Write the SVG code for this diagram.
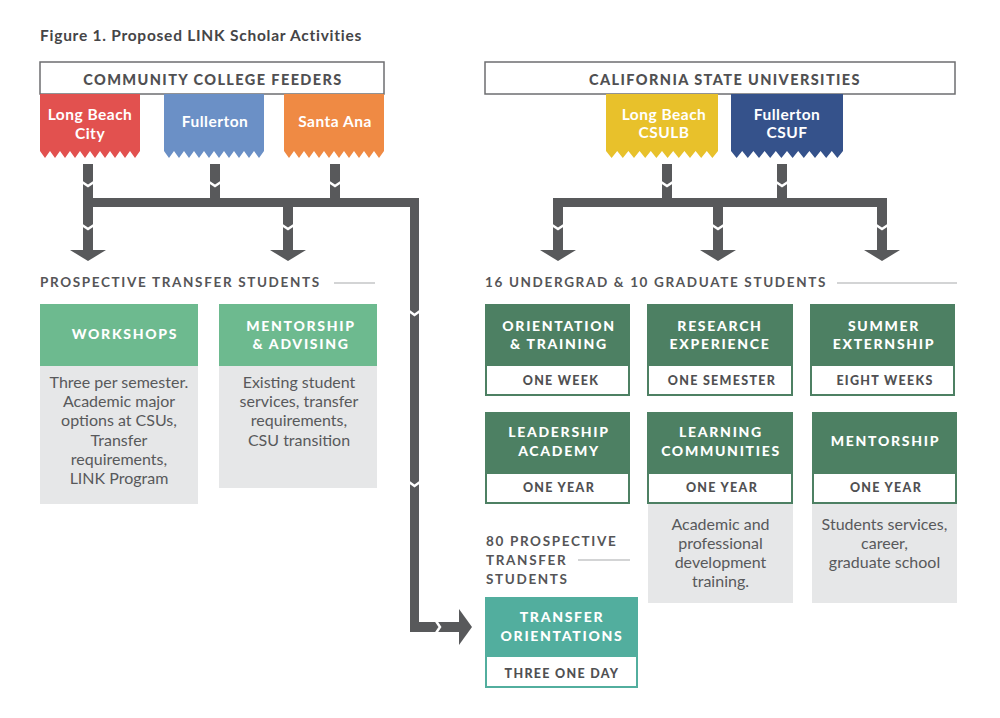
<svg xmlns="http://www.w3.org/2000/svg" width="1000" height="718" viewBox="0 0 1000 718">
<style>
text{font-family:Lato,"Open Sans","Liberation Sans",sans-serif}
.title{font-weight:bold;font-size:15.5px;fill:#454547;letter-spacing:0.75px}
.hdr{font-weight:900;font-size:14.5px;fill:#505052;letter-spacing:1.4px;text-anchor:middle}
.ban{font-weight:bold;font-size:15.5px;fill:#fff;letter-spacing:0.5px;text-anchor:middle}
.sec{font-weight:bold;font-size:13.5px;fill:#555557;letter-spacing:1.65px}
.bx{font-weight:900;font-size:14px;fill:#fff;letter-spacing:1.7px;text-anchor:middle}
.sub{font-weight:900;font-size:12.5px;fill:#505052;letter-spacing:1.3px;text-anchor:middle}
.body{font-size:16px;fill:#58595b;text-anchor:middle}
.hbox{fill:#fff;stroke:#6d6e70;stroke-width:1.5}
.con{fill:#58595b}
.gap{fill:none;stroke:#fff;stroke-width:2.5}
.rule{stroke:#a7a9ac;stroke-width:1.2}
.lg{fill:#6dba8f}
.dg{fill:#4d8063}
.tl{fill:#52ae9e}
.gray{fill:#e6e7e8}
.wb{fill:#fff;stroke:#4d8063;stroke-width:2}
.wbt{fill:#fff;stroke:#52ae9e;stroke-width:2}
</style>

<text class="title" x="40" y="41">Figure 1. Proposed LINK Scholar Activities</text>

<g id="cc-header">
<rect class="hbox" x="40" y="62" width="344" height="32"/>
<text class="hdr" x="213" y="85">COMMUNITY COLLEGE FEEDERS</text>
</g>
<g id="csu-header">
<rect class="hbox" x="485" y="62" width="470" height="32"/>
<text class="hdr" x="725" y="85">CALIFORNIA STATE UNIVERSITIES</text>
</g>

<g id="lbcc">
<path fill="#e2514f" d="M40,94H140V151L135,158L130,151L125,158L120,151L115,158L110,151L105,158L100,151L95,158L90,151L85,158L80,151L75,158L70,151L65,158L60,151L55,158L50,151L45,158L40,151Z"/>
<text class="ban" x="90" y="120">Long Beach</text>
<text class="ban" x="90" y="139">City</text>
</g>
<g id="fullerton-cc">
<path fill="#6b90c6" d="M164,94H264V151L259,158L254,151L249,158L244,151L239,158L234,151L229,158L224,151L219,158L214,151L209,158L204,151L199,158L194,151L189,158L184,151L179,158L174,151L169,158L164,151Z"/>
<text class="ban" x="215" y="127">Fullerton</text>
</g>
<g id="santa-ana">
<path fill="#ef8a44" d="M284,94H384V151L379,158L374,151L369,158L364,151L359,158L354,151L349,158L344,151L339,158L334,151L329,158L324,151L319,158L314,151L309,158L304,151L299,158L294,151L289,158L284,151Z"/>
<text class="ban" x="335" y="127">Santa Ana</text>
</g>
<g id="csulb">
<path fill="#e8c12b" d="M606,94H718V151L712.4,158L706.8,151L701.2,158L695.6,151L690,158L684.4,151L678.8,158L673.2,151L667.6,158L662,151L656.4,158L650.8,151L645.2,158L639.6,151L634,158L628.4,151L622.8,158L617.2,151L611.6,158L606,151Z"/>
<text class="ban" x="664" y="120">Long Beach</text>
<text class="ban" x="664" y="138">CSULB</text>
</g>
<g id="csuf">
<path fill="#35528b" d="M731,94H843V151L837.4,158L831.8,151L826.2,158L820.6,151L815,158L809.4,151L803.8,158L798.2,151L792.6,158L787,151L781.4,158L775.8,151L770.2,158L764.6,151L759,158L753.4,151L747.8,158L742.2,151L736.6,158L731,151Z"/>
<text class="ban" x="787" y="120">Fullerton</text>
<text class="ban" x="787" y="138">CSUF</text>
</g>

<g id="connectors">
<rect class="con" x="83" y="164" width="10" height="34"/>
<rect class="con" x="210" y="164" width="10" height="34"/>
<rect class="con" x="330" y="164" width="10" height="34"/>
<rect class="con" x="83" y="198" width="336" height="9"/>
<rect class="con" x="83" y="207" width="10" height="44"/>
<rect class="con" x="283" y="207" width="10" height="44"/>
<polygon class="con" points="70,250 106,250 88,261"/>
<polygon class="con" points="270,250 306,250 288,261"/>
<rect class="con" x="410" y="198" width="9" height="434"/>
<rect class="con" x="410" y="622" width="50" height="10"/>
<polygon class="con" points="459,609 459,645 472,627"/>
<rect class="con" x="662" y="164" width="10" height="34"/>
<rect class="con" x="777" y="164" width="10" height="34"/>
<rect class="con" x="553" y="198" width="334" height="9"/>
<rect class="con" x="553" y="207" width="10" height="44"/>
<rect class="con" x="713" y="207" width="10" height="44"/>
<rect class="con" x="877" y="207" width="10" height="44"/>
<polygon class="con" points="540,250 576,250 558,261"/>
<polygon class="con" points="700,250 736,250 718,261"/>
<polygon class="con" points="864,250 900,250 882,261"/>
<polyline class="gap" points="82,182 88,186 94,182"/>
<polyline class="gap" points="209,182 215,186 221,182"/>
<polyline class="gap" points="329,182 335,186 341,182"/>
<polyline class="gap" points="82,225 88,229 94,225"/>
<polyline class="gap" points="282,225 288,229 294,225"/>
<polyline class="gap" points="661,182 667,186 673,182"/>
<polyline class="gap" points="776,182 782,186 788,182"/>
<polyline class="gap" points="552,225 558,229 564,225"/>
<polyline class="gap" points="712,225 718,229 724,225"/>
<polyline class="gap" points="876,225 882,229 888,225"/>
<polyline class="gap" points="409,311 414.5,315 420,311"/>
<polyline class="gap" points="409,482 414.5,486 420,482"/>
<polyline class="gap" points="436,621 440,627 436,633"/>
</g>

<g id="sec-prospective">
<text class="sec" x="40" y="287">PROSPECTIVE TRANSFER STUDENTS</text>
<line class="rule" x1="334" y1="283" x2="375" y2="283"/>
</g>
<g id="sec-undergrad">
<text class="sec" x="485" y="287">16 UNDERGRAD &amp; 10 GRADUATE STUDENTS</text>
<line class="rule" x1="837" y1="283" x2="957" y2="283"/>
</g>
<g id="sec-80">
<text class="sec" x="486" y="546">80 PROSPECTIVE</text>
<text class="sec" x="486" y="565">TRANSFER</text>
<text class="sec" x="486" y="584">STUDENTS</text>
<line class="rule" x1="578" y1="560" x2="630" y2="560"/>
</g>

<g id="workshops">
<rect class="gray" x="40" y="366" width="158" height="138"/>
<rect class="lg" x="40" y="304" width="158" height="62"/>
<text class="bx" x="125" y="339">WORKSHOPS</text>
<text class="body" x="119" y="388">Three per semester.</text>
<text class="body" x="119" y="407">Academic major</text>
<text class="body" x="119" y="426">options at CSUs,</text>
<text class="body" x="119" y="446">Transfer</text>
<text class="body" x="119" y="465">requirements,</text>
<text class="body" x="119" y="484">LINK Program</text>
</g>
<g id="mentorship-advising">
<rect class="gray" x="219" y="366" width="158" height="122"/>
<rect class="lg" x="219" y="304" width="158" height="62"/>
<text class="bx" x="301" y="331">MENTORSHIP</text>
<text class="bx" x="301" y="349">&amp; ADVISING</text>
<text class="body" x="299" y="388">Existing student</text>
<text class="body" x="299" y="407">services, transfer</text>
<text class="body" x="299" y="426">requirements,</text>
<text class="body" x="299" y="446">CSU transition</text>
</g>

<g id="orientation-training">
<rect class="wb" x="486" y="305" width="143" height="90"/>
<rect class="dg" x="485" y="304" width="145" height="62"/>
<text class="bx" x="559" y="331">ORIENTATION</text>
<text class="bx" x="559" y="349">&amp; TRAINING</text>
<text class="sub" x="561" y="385">ONE WEEK</text>
</g>
<g id="research-experience">
<rect class="wb" x="648" y="305" width="144" height="90"/>
<rect class="dg" x="647" y="304" width="146" height="62"/>
<text class="bx" x="720" y="331">RESEARCH</text>
<text class="bx" x="720" y="349">EXPERIENCE</text>
<text class="sub" x="722" y="385">ONE SEMESTER</text>
</g>
<g id="summer-externship">
<rect class="wb" x="811" y="305" width="143" height="90"/>
<rect class="dg" x="810" y="304" width="145" height="62"/>
<text class="bx" x="884" y="331">SUMMER</text>
<text class="bx" x="884" y="349">EXTERNSHIP</text>
<text class="sub" x="885" y="385">EIGHT WEEKS</text>
</g>
<g id="leadership-academy">
<rect class="wb" x="486" y="413" width="143" height="90"/>
<rect class="dg" x="485" y="412" width="145" height="62"/>
<text class="bx" x="559" y="437">LEADERSHIP</text>
<text class="bx" x="559" y="456">ACADEMY</text>
<text class="sub" x="559" y="492">ONE YEAR</text>
</g>
<g id="learning-communities">
<rect class="gray" x="648" y="504" width="145" height="99"/>
<rect class="wb" x="648" y="413" width="144" height="90"/>
<rect class="dg" x="647" y="412" width="146" height="62"/>
<text class="bx" x="721" y="437">LEARNING</text>
<text class="bx" x="721" y="456">COMMUNITIES</text>
<text class="sub" x="722" y="492">ONE YEAR</text>
<text class="body" x="720.5" y="530">Academic and</text>
<text class="body" x="720.5" y="549">professional</text>
<text class="body" x="720.5" y="568">development</text>
<text class="body" x="720.5" y="587">training.</text>
</g>
<g id="mentorship">
<rect class="gray" x="812" y="504" width="145" height="99"/>
<rect class="wb" x="813" y="413" width="143" height="90"/>
<rect class="dg" x="812" y="412" width="145" height="62"/>
<text class="bx" x="885.5" y="446">MENTORSHIP</text>
<text class="sub" x="886" y="492">ONE YEAR</text>
<text class="body" x="884.5" y="530">Students services,</text>
<text class="body" x="884.5" y="549">career,</text>
<text class="body" x="884.5" y="568">graduate school</text>
</g>
<g id="transfer-orientations">
<rect class="wbt" x="486" y="598" width="151" height="89"/>
<rect class="tl" x="485" y="597" width="153" height="60"/>
<text class="bx" x="562" y="622">TRANSFER</text>
<text class="bx" x="562" y="641">ORIENTATIONS</text>
<text class="sub" x="562" y="678">THREE ONE DAY</text>
</g>
</svg>
